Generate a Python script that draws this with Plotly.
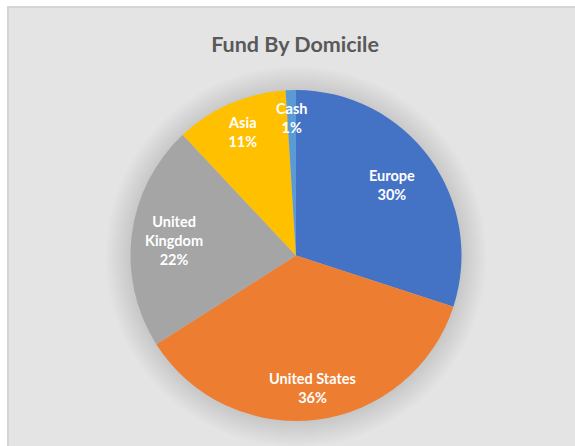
import math
import plotly.graph_objects as go

# Fund allocation by domicile (percent of fund)
categories = ["Europe", "United States", "United Kingdom", "Asia", "Cash"]
shares = [30, 36, 22, 11, 1]
label_text = ["Europe", "United States", "United<br>Kingdom", "Asia", "Cash"]
colors = ["#4472C4", "#ED7D31", "#A5A5A5", "#FFC000", "#5B9BD5"]

# Radial position of each data label, as a fraction of the pie radius
label_radius = [0.72, 0.81, 0.74, 0.81, 0.83]

W, H = 575, 446
cx, cy, r = 296.0, 255.5, 165.5  # pie centre / radius in pixels


def px_x(x):
    return x / W


def px_y(y):
    return 1 - y / H


fig = go.Figure(
    go.Pie(
        labels=categories,
        values=shares,
        sort=False,
        direction="clockwise",
        rotation=0,
        marker=dict(colors=colors, line=dict(width=0)),
        textinfo="none",
        hoverinfo="label+percent",
        showlegend=False,
        domain=dict(x=[px_x(cx - r), px_x(cx + r)], y=[px_y(cy + r), px_y(cy - r)]),
    )
)

# Chart area panel
shapes = [
    dict(
        type="rect", xref="paper", yref="paper",
        x0=px_x(8), x1=px_x(W + 2), y0=px_y(H + 2), y1=px_y(7),
        fillcolor="#E4E4E4", line=dict(color="#D4D4D4", width=2), layer="below",
    )
]
# Soft glow around the pie
for i in range(14):
    rr = r + 1.5 + i * 1.8
    shapes.append(
        dict(
            type="circle", xref="paper", yref="paper",
            x0=px_x(cx - rr), x1=px_x(cx + rr),
            y0=px_y(cy + 1 + rr), y1=px_y(cy + 1 - rr),
            fillcolor="rgba(0,0,0,0.008)", line=dict(width=0), layer="below",
        )
    )

# Data labels at the mid-angle of each slice
annotations = []
total = sum(shares)
cum = 0.0
for name, val, frac in zip(label_text, shares, label_radius):
    mid = (cum + val / 2) / total * 2 * math.pi
    cum += val
    lx = cx + frac * r * math.sin(mid)
    ly = cy - frac * r * math.cos(mid)
    pct = round(val / total * 100)
    annotations.append(
        dict(
            x=px_x(lx), y=px_y(ly), xref="paper", yref="paper",
            text=f"{name}<br>{pct}%", showarrow=False,
            xanchor="center", yanchor="middle", align="center",
            font=dict(family="Lato, Carlito, Calibri, sans-serif", size=14.5, color="white", weight="bold"),
        )
    )

fig.update_layout(
    width=W, height=H,
    margin=dict(l=0, r=0, t=0, b=0),
    paper_bgcolor="white",
    plot_bgcolor="white",
    title=dict(
        text="<b>Fund By Domicile</b>",
        x=px_x(295), y=px_y(44), xanchor="center", yanchor="middle",
        font=dict(family="Lato, Carlito, Calibri, sans-serif", size=21.5, color="#595959"),
    ),
    shapes=shapes,
    annotations=annotations,
)

fig.write_html("out.html")
